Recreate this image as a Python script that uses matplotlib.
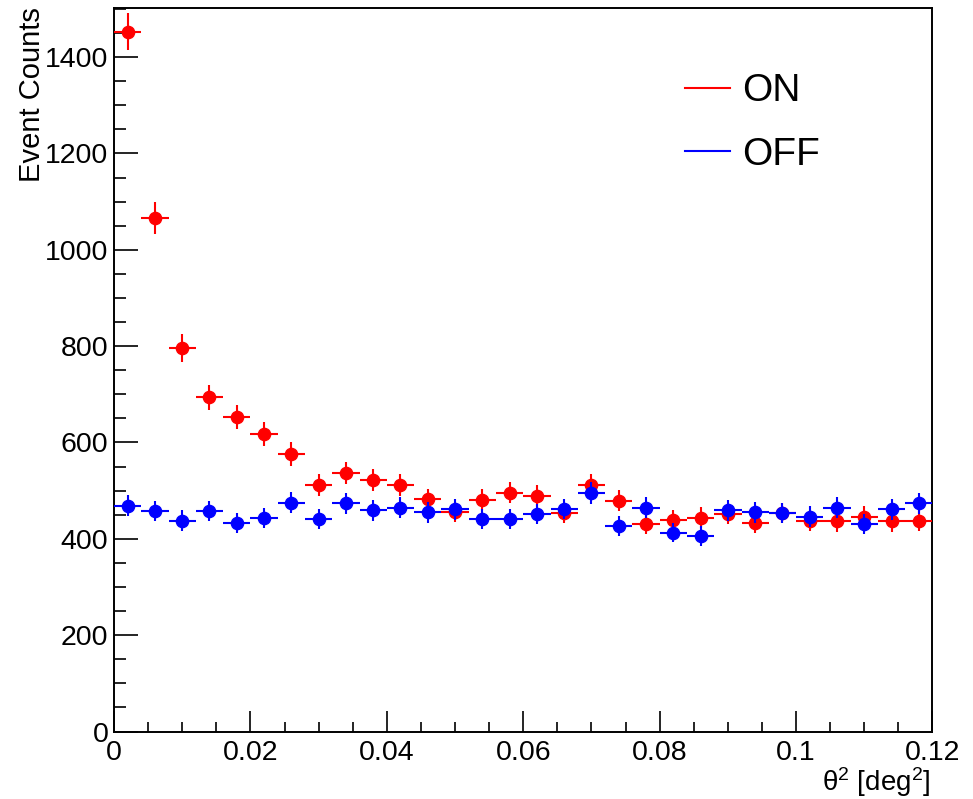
import numpy as np
import matplotlib
matplotlib.use('Agg')
import matplotlib.pyplot as plt
from matplotlib.lines import Line2D

plt.rcParams['font.family'] = ['Liberation Sans', 'DejaVu Sans']
plt.rcParams['mathtext.fontset'] = 'custom'
plt.rcParams['mathtext.rm'] = 'Liberation Sans'
plt.rcParams['mathtext.it'] = 'Liberation Sans:italic'

# theta^2 histogram, 30 bins from 0 to 0.12 deg^2
bin_lo = 0.0
bin_hi = 0.12
n_bins = 30

on_counts = [1453, 1066, 796, 694, 653, 618, 576, 512, 537, 522,
             512, 482, 456, 481, 496, 489, 454, 512, 479, 431,
             439, 444, 451, 432, 454, 438, 436, 446, 436, 438]
off_counts = [469, 458, 438, 458, 432, 443, 475, 441, 474, 459,
              465, 455, 461, 441, 441, 451, 462, 495, 427, 465,
              413, 406, 459, 455, 454, 446, 465, 430, 461, 474]

edges = np.linspace(bin_lo, bin_hi, n_bins + 1)
centers = 0.5 * (edges[:-1] + edges[1:])
half_w = 0.5 * (edges[1] - edges[0])

on = np.array(on_counts, dtype=float)
off = np.array(off_counts, dtype=float)

fig = plt.figure(figsize=(9.73, 7.99), dpi=100)
ax = fig.add_axes([114 / 973, 1 - 731.5 / 799, 818.5 / 973, 724 / 799])

ax.errorbar(centers, on, xerr=half_w, yerr=np.sqrt(on), fmt='o', color='red',
            ms=8.8, elinewidth=1.5, capsize=0, zorder=3)
ax.errorbar(centers, off, xerr=half_w, yerr=np.sqrt(off), fmt='o', color='blue',
            ms=8.8, elinewidth=1.5, capsize=0, zorder=4)

ax.set_xlim(bin_lo, bin_hi)
ax.set_ylim(0, 1503)

ax.set_xticks(np.arange(0, 0.1201, 0.02))
ax.set_xticklabels(['0', '0.02', '0.04', '0.06', '0.08', '0.1', '0.12'])
ax.set_xticks(np.arange(0, 0.1201, 0.005), minor=True)
ax.set_yticks(np.arange(0, 1401, 200))
ax.set_yticks(np.arange(0, 1501, 50), minor=True)

for s in ax.spines.values():
    s.set_linewidth(1.4)
ax.tick_params(axis='both', which='both', direction='in', top=False, right=False,
               labelsize=20.5, width=1.2)
ax.tick_params(axis='x', which='major', length=15, pad=6)
ax.tick_params(axis='x', which='minor', length=7.5)
ax.tick_params(axis='y', which='major', length=17, pad=4)
ax.tick_params(axis='y', which='minor', length=8.5)

ax.set_xlabel(r'$\mathrm{\theta}^{2}$ [deg$^{2}$]', fontsize=20, loc='right')
ax.xaxis.set_label_coords(1.0 - 2 / 818.5, -(765 - 731.5) / 724)
ax.set_ylabel('Event Counts', fontsize=21, loc='top')
ax.yaxis.set_label_coords(-(114 - 46) / 818.5, 1.0)

handles = [Line2D([], [], color='red', lw=1.5), Line2D([], [], color='blue', lw=1.5)]
ax.legend(handles, ['ON', 'OFF'], loc='upper left', bbox_to_anchor=(0.698, 0.909),
          frameon=False, fontsize=28, handlelength=1.16, handletextpad=0.3,
          labelspacing=0.7, borderpad=0, borderaxespad=0)

fig.savefig('out.png', dpi=100)
